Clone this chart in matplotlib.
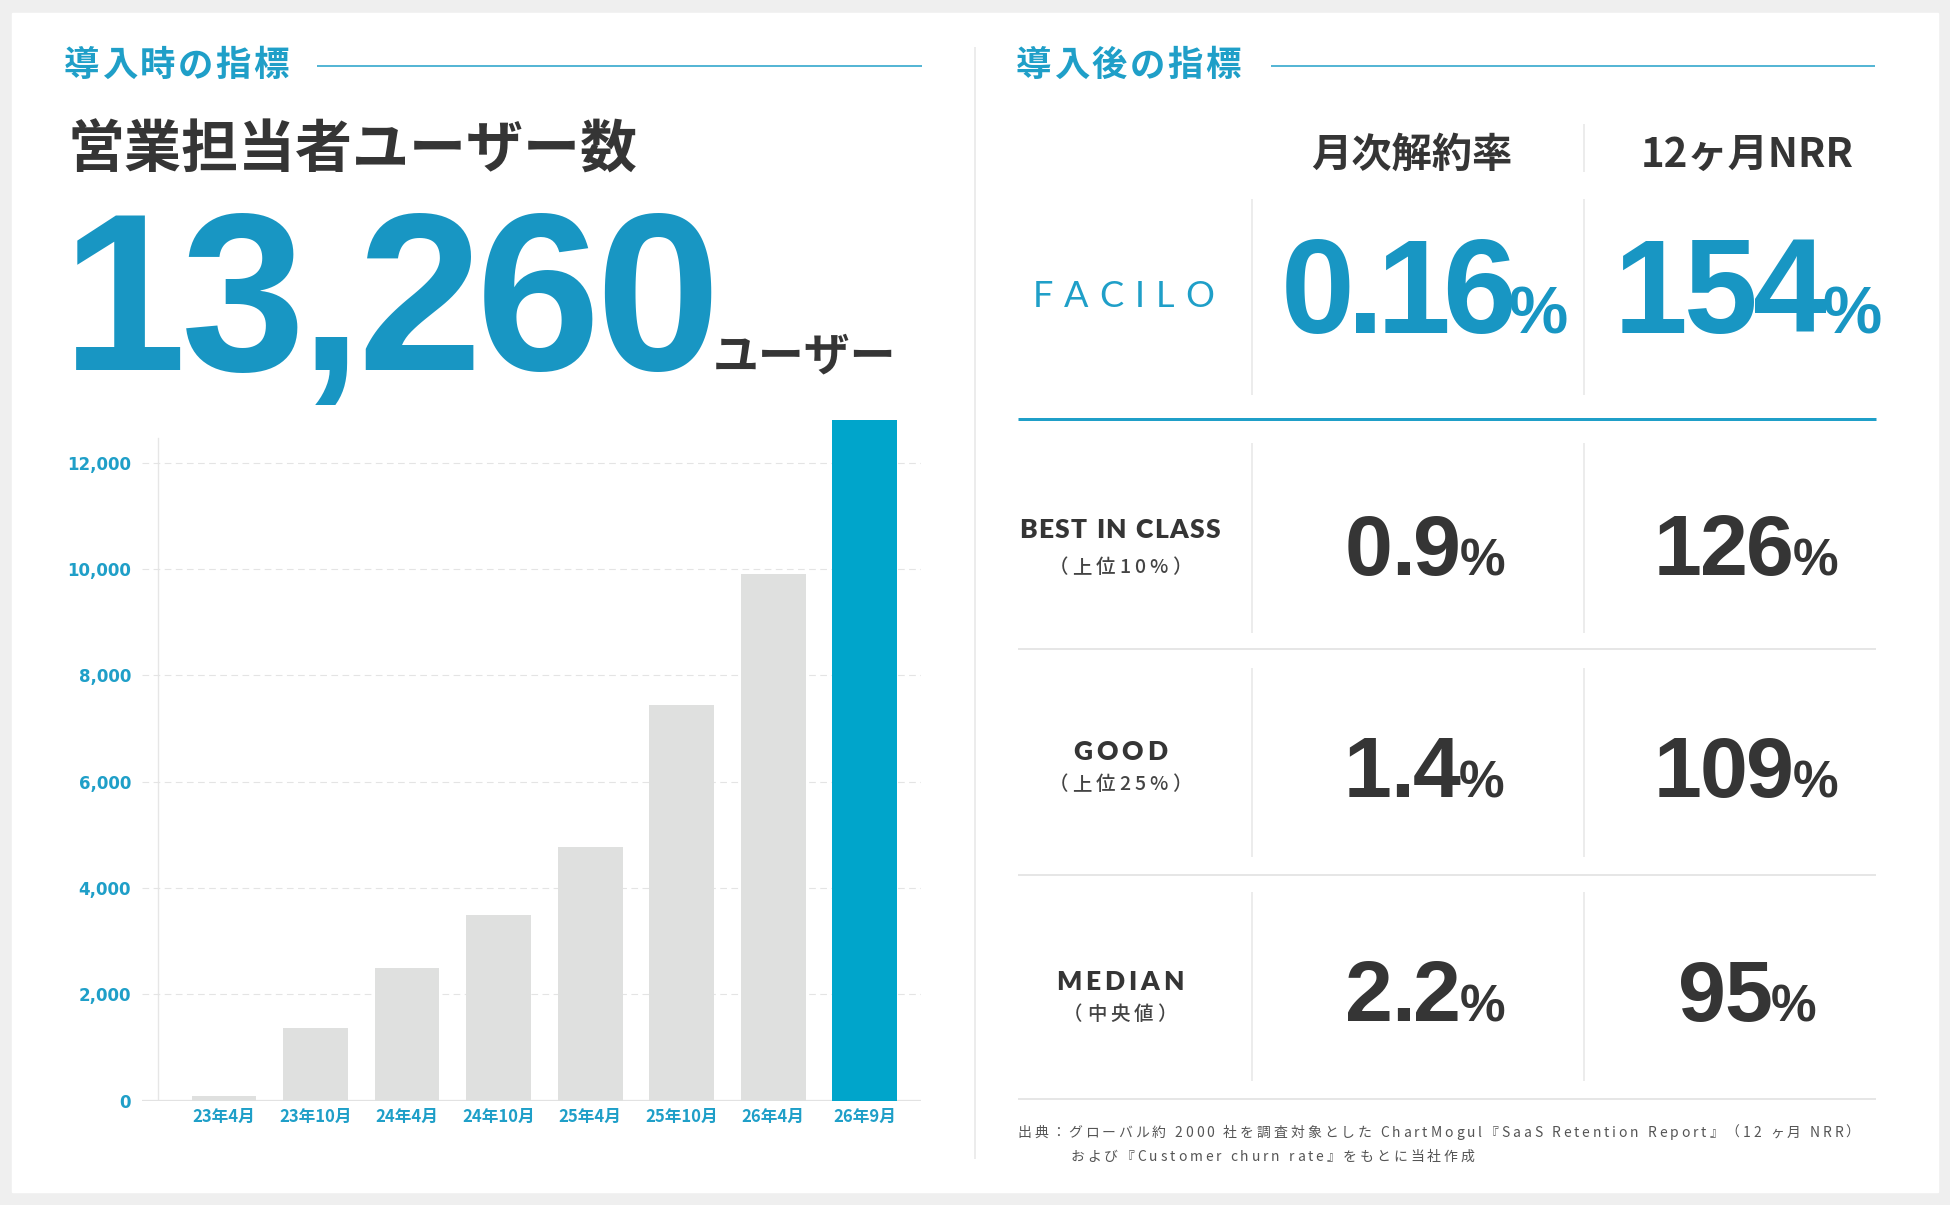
import numpy as np
import matplotlib
matplotlib.use('Agg')
import matplotlib.pyplot as plt
from matplotlib import font_manager as fm, ft2font
from matplotlib.lines import Line2D
from matplotlib.patches import Rectangle

# ---- data ----
months = ['23年4月', '23年10月', '24年4月', '24年10月', '25年4月', '25年10月', '26年4月', '26年9月']
users = [80, 1360, 2500, 3490, 4770, 7440, 9900, 12800]
total_users = 13260
y_ticks = [0, 2000, 4000, 6000, 8000, 10000, 12000]

metric_headers = ['月次解約率', '12ヶ月NRR']
facilo_churn = 0.16
facilo_nrr = 154
tiers = ['BEST IN CLASS', 'GOOD', 'MEDIAN']
tier_notes = ['（上位10%）', '（上位25%）', '（中央値）']
tier_churn = [0.9, 1.4, 2.2]
tier_nrr = [126, 109, 95]

source_lines = [
    '出典：グローバル約 2000 社を調査対象とした ChartMogul『SaaS Retention Report』（12 ヶ月 NRR）',
    'および『Customer churn rate』をもとに当社作成',
]

# ---- style ----
W, H, DPI = 1950, 1205, 100
TEAL = '#1f9fc8'
BIG = '#1896c3'
BAR_BLUE = '#00a5cb'
BAR_GRAY = '#dfe0df'
DARK = '#353535'
SEP = '#e6e6e6'
JP = 'Noto Sans CJK JP'
NUM = 'Liberation Sans'
HF = plt.rcParams['text.hinting_factor']

fig = plt.figure(figsize=(W / DPI, H / DPI), dpi=DPI, facecolor='#efefef')


def fx(x):
    return x / W


def fy(y):
    return 1 - y / H


def hline(y, x0, x1, color=SEP, px=1.5):
    fig.add_artist(Line2D([fx(x0), fx(x1)], [fy(y), fy(y)], transform=fig.transFigure,
                          color=color, lw=px * 0.72, solid_capstyle='butt'))


def vline(x, y0, y1, color=SEP, px=1.5):
    fig.add_artist(Line2D([fx(x), fx(x)], [fy(y0), fy(y1)], transform=fig.transFigure,
                          color=color, lw=px * 0.72, solid_capstyle='butt'))


_fonts = {}


def _ft(prop):
    path = fm.findfont(prop)
    if path not in _fonts:
        _fonts[path] = ft2font.FT2Font(path)
    return _fonts[path]


def tracked_text(x, y, segments, tracking=0.0, ha='center', color=DARK, family=NUM, weight='bold'):
    # segments: list of (text, size); glyphs are laid out one by one with extra spacing,
    # x refers to the ink extent of the whole run
    items = []
    pen = 0.0
    ink_l, ink_r = None, None
    for s, size in segments:
        prop = fm.FontProperties(family=family, weight=weight, size=size)
        font = _ft(prop)
        font.set_size(size, DPI)
        for ch in s:
            g = font.load_char(ord(ch))
            adv = g.horiAdvance / (64.0 * HF)
            bx = g.horiBearingX / 64.0
            gw = g.width / 64.0
            if ch.strip():
                items.append((ch, size, pen))
                ink_l = pen + bx if ink_l is None else ink_l
                ink_r = pen + bx + gw
            pen += adv + tracking
    if ha == 'left':
        x0 = x - ink_l
    elif ha == 'right':
        x0 = x - ink_r
    else:
        x0 = x - (ink_l + ink_r) / 2
    for ch, size, off in items:
        fig.text(fx(x0 + off), fy(y), ch, fontsize=size, family=family, weight=weight,
                 color=color, ha='left', va='baseline')


# white card
fig.add_artist(Rectangle((fx(12), fy(1192)), (1938 - 12) / W, (1192 - 13) / H,
                         transform=fig.transFigure, color='white', zorder=-1))

# ---- left panel ----
tracked_text(65, 76, [('導入時の指標', 25.5)], tracking=2.5, ha='left', family=JP, color=TEAL)
hline(66, 317, 922, TEAL, 1.5)
fig.text(fx(67), fy(168), '営業担当者ユーザー数', fontsize=41, family=JP, weight='bold',
         color=DARK, ha='left', va='baseline')
tracked_text(710, 370, [(f'{total_users:,}', 161)], tracking=-5.5, ha='right', color=BIG)
fig.text(fx(713), fy(370), 'ユーザー', fontsize=33, family=JP, weight='bold', color=DARK,
         ha='left', va='baseline')

ax = fig.add_axes([fx(142), fy(1100.6), (921 - 142) / W, (1100.6 - 409.7) / H])
ax.set_facecolor('none')
xpos = np.arange(len(months))
bar_colors = [BAR_GRAY] * (len(months) - 1) + [BAR_BLUE]
ax.bar(xpos, users, width=0.71, color=bar_colors, zorder=3)
ax.set_xlim(-0.896, 7.617)
ax.set_ylim(0, 13000)
ax.set_yticks(y_ticks)
ax.set_yticklabels([f'{v:,}' for v in y_ticks])
ax.set_xticks(xpos)
ax.set_xticklabels(months)
for s in ax.spines.values():
    s.set_visible(False)
ax.yaxis.grid(True, color='#e4e4e4', lw=0.8, ls=(0, (6, 4)), zorder=0)
ax.axhline(0, color='#e2e2e2', lw=1.6, zorder=2)
ax.axvline(-0.72, ymax=12470 / 13000, color=SEP, lw=1.0, zorder=1)
ax.tick_params(axis='y', length=0, pad=8, labelcolor=TEAL)
ax.tick_params(axis='x', length=0, pad=5, labelcolor=TEAL)
for lab in ax.get_yticklabels():
    lab.set_fontsize(12)
    lab.set_fontweight('bold')
    lab.set_family('DejaVu Sans')
for lab in ax.get_xticklabels():
    lab.set_fontsize(12)
    lab.set_fontweight('bold')
    lab.set_family(JP)

# panel divider
vline(975, 47, 1159, SEP, 1.5)

# ---- right panel ----
tracked_text(1017, 76, [('導入後の指標', 25.5)], tracking=2.5, ha='left', family=JP, color=TEAL)
hline(66, 1271, 1875, TEAL, 1.5)

col_x = [1426, 1748]
for cx, head in zip([1412, 1747], metric_headers):
    fig.text(fx(cx), fy(167), head, fontsize=29, family=JP, weight='bold', color=DARK,
             ha='center', va='baseline')
vline(1584, 124, 172)

# FACILO row
vline(1252, 199, 395)
vline(1584, 199, 395)
tracked_text(1124, 307, [('FACILO', 26)], tracking=11, family='Lato', weight='normal', color=TEAL)
tracked_text(col_x[0], 333, [(f'{facilo_churn:g}', 95.5), ('%', 48)], tracking=-7.5, color=BIG)
tracked_text(col_x[1] + 3, 333, [(f'{facilo_nrr:g}', 95.5), ('%', 48)], tracking=-4.5, color=BIG)
hline(419, 1018, 1876, TEAL, 3)

row_sep_top = [443, 668, 892]
row_sep_bot = [633, 857, 1081]
row_lines = [649, 875, 1099]
label_base = [538, 760, 990]
note_base = [573, 790, 1020]
value_base = [575, 797, 1021]
label_track = [1.5, 4, 4]
for i in range(len(tiers)):
    vline(1252, row_sep_top[i], row_sep_bot[i])
    vline(1584, row_sep_top[i], row_sep_bot[i])
    hline(row_lines[i], 1018, 1876, SEP, 2)
    tracked_text(1120, label_base[i], [(tiers[i], 19)], tracking=label_track[i],
                 family='Lato', weight='heavy', color=DARK)
    tracked_text(1120, note_base[i], [(tier_notes[i], 14)], tracking=4, family=JP,
                 weight='medium', color='#444444')
    tracked_text(col_x[0], value_base[i], [(f'{tier_churn[i]:g}', 62), ('%', 37)],
                 tracking=-1.7, color=DARK)
    tracked_text(col_x[1], value_base[i], [(f'{tier_nrr[i]:g}', 62), ('%', 37)],
                 tracking=-1.7, color=DARK)

# source note
tracked_text(1019, 1137, [(source_lines[0], 10)], tracking=2.9, ha='left', family=JP,
             weight='normal', color='#555555')
tracked_text(1072, 1161, [(source_lines[1], 10)], tracking=2.9, ha='left', family=JP,
             weight='normal', color='#555555')

fig.savefig('out.png', dpi=DPI, facecolor=fig.get_facecolor())
